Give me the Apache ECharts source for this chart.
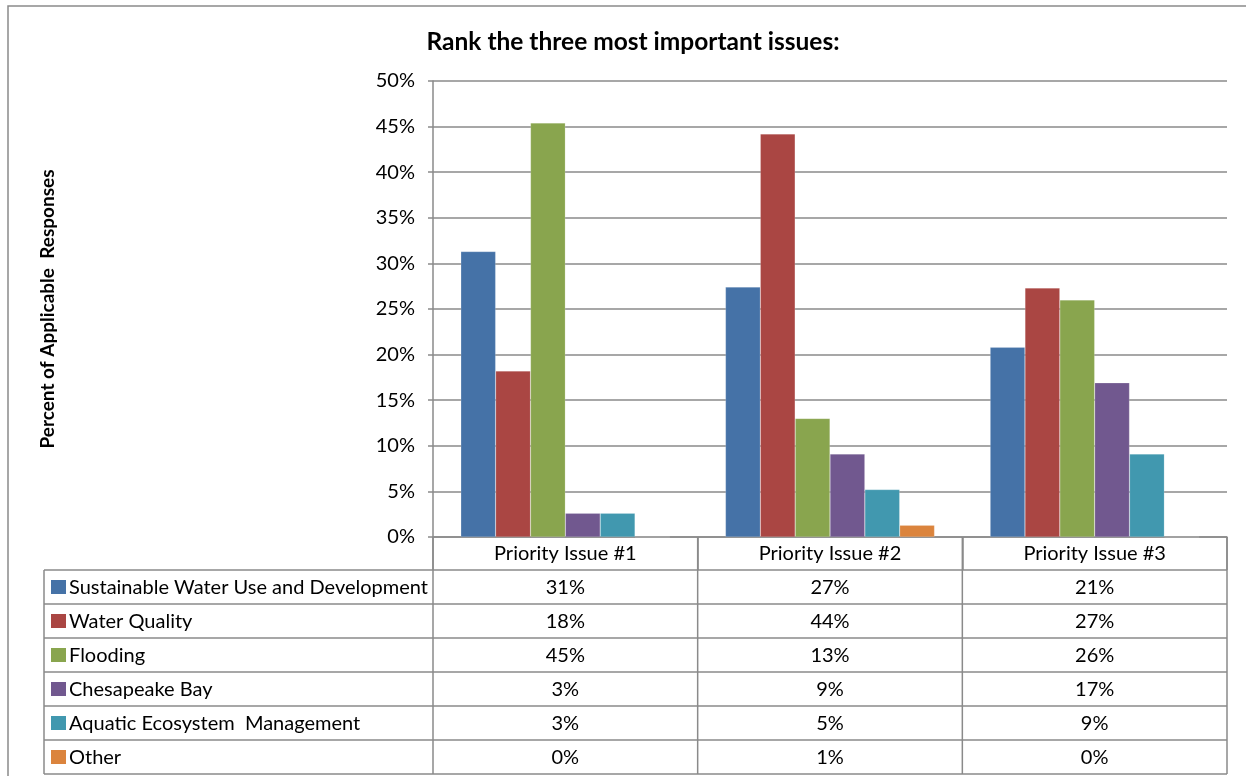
<!DOCTYPE html>
<html><head><meta charset="utf-8">
<script src="https://cdn.jsdelivr.net/npm/echarts@6/dist/echarts.min.js"></script>
<style>html,body{margin:0;padding:0;background:#fff;}#c{width:1246px;height:776px;}</style>
</head><body><div id="c"></div>
<script>
const categories = ['Priority Issue #1', 'Priority Issue #2', 'Priority Issue #3'];
const seriesNames = ['Sustainable Water Use and Development', 'Water Quality', 'Flooding', 'Chesapeake Bay', 'Aquatic Ecosystem  Management', 'Other'];
const sustainable = [31.3, 27.4, 20.8];
const waterQuality = [18.2, 44.2, 27.3];
const flooding = [45.4, 13.0, 26.0];
const chesapeake = [2.6, 9.1, 16.9];
const aquatic = [2.6, 5.2, 9.1];
const other = [0, 1.3, 0];
const yTicks = [0, 5, 10, 15, 20, 25, 30, 35, 40, 45, 50];
const colors = ['#4572A7', '#AA4643', '#89A54E', '#71588F', '#4198AF', '#DB843D'];
const allSeries = [sustainable, waterQuality, flooding, chesapeake, aquatic, other];

const FONT = 'Lato';
const FS = 20;
const GRID = {left: 433, right: 19, top: 81, bottom: 239};
const HEADER_H = 33, ROW_H = 34, TABLE_LEFT = 44;
const lineCol = '#8a8a8a';

const chart = echarts.init(document.getElementById('c'));
chart.setOption({
  animation: false,
  backgroundColor: '#fff',
  title: {text: 'Rank the three most important issues:', left: 628, top: 25, textAlign: 'center',
    textStyle: {fontFamily: FONT, fontWeight: 'bold', fontSize: 24.5, color: '#000'}},
  grid: GRID,
  xAxis: {type: 'category', data: categories,
    axisLine: {lineStyle: {color: lineCol, width: 1.5}},
    axisTick: {show: true, length: HEADER_H, lineStyle: {color: lineCol, width: 1.5}},
    axisLabel: {margin: 7, fontFamily: FONT, fontSize: FS, color: '#000'}},
  yAxis: {type: 'value', min: yTicks[0], max: yTicks[yTicks.length - 1], interval: 5,
    name: 'Percent of Applicable  Responses', nameLocation: 'middle', nameGap: 376, nameRotate: 90,
    nameTextStyle: {fontFamily: FONT, fontWeight: 'bold', fontSize: 19, color: '#000'},
    axisLine: {show: true, lineStyle: {color: lineCol, width: 1.5}},
    axisTick: {show: true, length: 5, lineStyle: {color: lineCol, width: 1.5}},
    axisLabel: {margin: 18, fontFamily: FONT, fontSize: FS, color: '#000', formatter: v => v + '%'},
    splitLine: {lineStyle: {color: lineCol, width: 1.5}}},
  series: allSeries.map((d, i) => ({
    name: seriesNames[i], type: 'bar', data: d, barGap: '0%', barCategoryGap: '21%',
    itemStyle: {color: colors[i], borderColor: 'rgba(255,255,255,0.35)', borderWidth: 0.5}
  }))
});

// Build data table from axis-derived positions
const c0 = chart.convertToPixel({xAxisIndex: 0}, 0);
const c1 = chart.convertToPixel({xAxisIndex: 0}, 1);
const band = c1 - c0;
const xb = [0, 1, 2, 3].map(k => c0 - band / 2 + k * band);
const y0 = chart.convertToPixel({yAxisIndex: 0}, 0);
const tableTop = y0 + HEADER_H;
const nRows = seriesNames.length;
const tableBottom = tableTop + nRows * ROW_H;
const els = [];
els.push({type: 'rect', shape: {x: 8, y: 6, width: 1300, height: 900}, style: {fill: null, stroke: '#8a8a8a', lineWidth: 1.5}, silent: true, z: 0});
for (let r = 0; r <= nRows; r++) {
  const y = tableTop + r * ROW_H;
  els.push({type: 'line', shape: {x1: TABLE_LEFT, y1: y, x2: xb[3], y2: y}, style: {stroke: lineCol, lineWidth: 1.5}, z: 10});
}
els.push({type: 'line', shape: {x1: TABLE_LEFT, y1: tableTop, x2: TABLE_LEFT, y2: tableBottom}, style: {stroke: lineCol, lineWidth: 1.5}, z: 10});
xb.forEach(x => els.push({type: 'line', shape: {x1: x, y1: y0, x2: x, y2: tableBottom}, style: {stroke: lineCol, lineWidth: 1.5}, z: 10}));
for (let r = 0; r < nRows; r++) {
  const yc = tableTop + r * ROW_H + ROW_H / 2;
  els.push({type: 'rect', shape: {x: 51, y: yc - 7, width: 15, height: 14}, style: {fill: colors[r]}, z: 10});
  els.push({type: 'text', x: 69, y: yc + 1, style: {text: seriesNames[r], fontFamily: FONT, fontSize: FS, fill: '#000', textVerticalAlign: 'middle', verticalAlign: 'middle'}, z: 10});
  for (let c = 0; c < categories.length; c++) {
    els.push({type: 'text', x: (xb[c] + xb[c + 1]) / 2, y: yc + 1, style: {text: Math.round(allSeries[r][c]) + '%', fontFamily: FONT, fontSize: FS, fill: '#000', align: 'center', textAlign: 'center', verticalAlign: 'middle', textVerticalAlign: 'middle'}, z: 10});
  }
}
chart.setOption({graphic: {elements: els}});
</script></body></html>
